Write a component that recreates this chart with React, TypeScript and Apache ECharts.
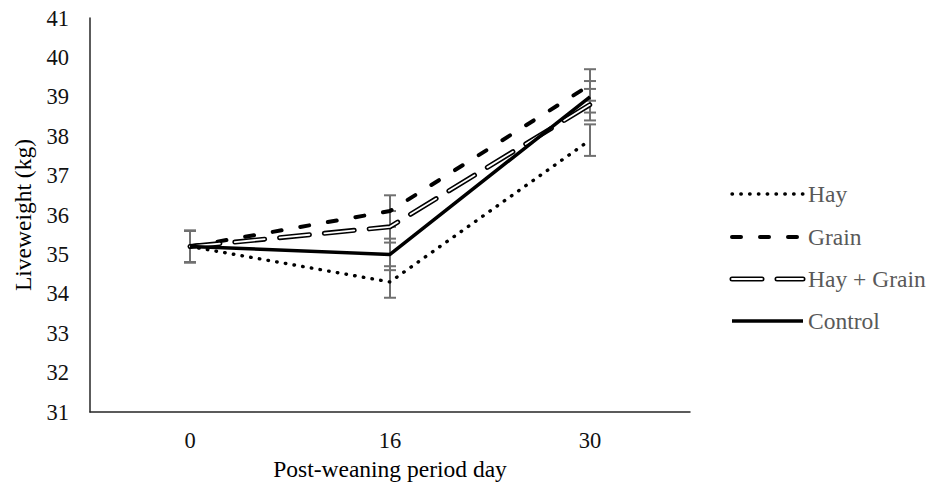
import React, { useEffect, useRef } from "react";
import * as echarts from "echarts";

// Post-weaning liveweight by feeding treatment
const days = ["0", "16", "30"];
const hay = [35.2, 34.3, 37.9];
const grain = [35.2, 36.1, 39.3];
const hayGrain = [35.2, 35.7, 38.8];
const control = [35.2, 35.0, 39.0];

// Error bar half-widths (kg) per series and day
const hayErr = [0.4, 0.4, 0.4];
const grainErr = [0.4, 0.4, 0.4];
const hayGrainErr = [0.4, 0.4, 0.4];
const controlErr = [0.4, 0.4, 0.4];

const yTicks = { min: 31, max: 41, interval: 1 };

const FONT = "'Liberation Serif', 'Times New Roman', serif";

const dotted = { type: [0.5, 8.3], cap: "round" as const, width: 3.4 };
const dashed = { type: [9, 19], cap: "round" as const, width: 4 };
const longDash = [30, 15];

function errorData(values: number[], errs: number[]) {
  return values.map((v, i) => [i, v - errs[i], v + errs[i]]);
}

export default function App() {
  const ref = useRef<HTMLDivElement>(null);

  useEffect(() => {
    if (!ref.current) return;
    const chart = echarts.init(ref.current, undefined, { renderer: "svg" });

    const renderErrorBar = (_params: any, api: any) => {
      const idx = api.value(0);
      const top = api.coord([idx, api.value(2)]);
      const bot = api.coord([idx, api.value(1)]);
      const half = 6;
      const style = { stroke: "#707070", lineWidth: 2, fill: "none" };
      return {
        type: "group",
        children: [
          { type: "line", shape: { x1: top[0], y1: top[1], x2: bot[0], y2: bot[1] }, style },
          { type: "line", shape: { x1: top[0] - half, y1: top[1], x2: top[0] + half, y2: top[1] }, style },
          { type: "line", shape: { x1: bot[0] - half, y1: bot[1], x2: bot[0] + half, y2: bot[1] }, style },
        ],
      };
    };

    const errSeries = (vals: number[], errs: number[]) => ({
      type: "custom",
      renderItem: renderErrorBar,
      data: errorData(vals, errs),
      z: 1,
      silent: true,
    });

    const lineBase = {
      type: "line",
      symbol: "none",
      silent: true,
      z: 3,
    };

    // legend drawn as graphic elements so the outlined dash can be shown
    const legendX1 = 732;
    const legendX2 = 803;
    const legendTextX = 808;
    const legendRows = [194, 237, 279, 321];
    const legendText = (label: string, y: number) => ({
      type: "text",
      x: legendTextX,
      y,
      style: {
        text: label,
        fill: "#595959",
        fontSize: 23.5,
        fontFamily: FONT,
        verticalAlign: "middle",
      },
    });
    const legendLine = (y: number, style: any) => ({
      type: "line",
      shape: { x1: legendX1, y1: y, x2: legendX2, y2: y },
      style,
    });

    chart.setOption({
      animation: false,
      backgroundColor: "#ffffff",
      grid: { left: 90, right: 239, top: 18, bottom: 81, containLabel: false },
      xAxis: {
        type: "category",
        data: days,
        boundaryGap: true,
        name: "Post-weaning period day",
        nameLocation: "middle",
        nameGap: 45,
        nameTextStyle: { fontFamily: FONT, fontSize: 23.5, color: "#000" },
        axisLine: { lineStyle: { color: "#262626", width: 1.5 } },
        axisTick: { show: false },
        axisLabel: { fontFamily: FONT, fontSize: 22.5, color: "#111", margin: 17 },
        splitLine: { show: false },
      },
      yAxis: {
        type: "value",
        min: yTicks.min,
        max: yTicks.max,
        interval: yTicks.interval,
        name: "Liveweight (kg)",
        nameLocation: "middle",
        nameGap: 55,
        nameTextStyle: { fontFamily: FONT, fontSize: 23.5, color: "#000" },
        axisLine: { show: true, lineStyle: { color: "#262626", width: 1.5 } },
        axisTick: { show: false },
        axisLabel: { fontFamily: FONT, fontSize: 22.5, color: "#111", margin: 21 },
        splitLine: { show: false },
      },
      series: [
        errSeries(hay, hayErr),
        errSeries(grain, grainErr),
        errSeries(hayGrain, hayGrainErr),
        errSeries(control, controlErr),
        {
          ...lineBase,
          name: "Hay",
          data: hay,
          lineStyle: { color: "#000", ...dotted },
        },
        {
          ...lineBase,
          name: "Grain",
          data: grain,
          lineStyle: { color: "#000", ...dashed },
        },
        {
          ...lineBase,
          name: "Hay + Grain",
          data: hayGrain,
          lineStyle: { color: "#000", width: 5, type: longDash, cap: "round" },
        },
        {
          ...lineBase,
          name: "Hay + Grain inner",
          data: hayGrain,
          z: 4,
          lineStyle: { color: "#ffffff", width: 1.8, type: longDash, cap: "round" },
        },
        {
          ...lineBase,
          name: "Control",
          data: control,
          z: 5,
          lineStyle: { color: "#000", width: 3.5, type: "solid" },
        },
      ],
      graphic: [
        legendLine(legendRows[0], {
          stroke: "#000",
          lineWidth: dotted.width,
          lineDash: dotted.type,
          lineCap: "round",
        }),
        legendText("Hay", legendRows[0]),
        legendLine(legendRows[1], {
          stroke: "#000",
          lineWidth: dashed.width,
          lineDash: dashed.type,
          lineCap: "round",
        }),
        legendText("Grain", legendRows[1]),
        legendLine(legendRows[2], {
          stroke: "#000",
          lineWidth: 5,
          lineDash: longDash,
          lineCap: "round",
        }),
        legendLine(legendRows[2], {
          stroke: "#fff",
          lineWidth: 1.8,
          lineDash: longDash,
          lineCap: "round",
        }),
        legendText("Hay + Grain", legendRows[2]),
        legendLine(legendRows[3], { stroke: "#000", lineWidth: 3.5 }),
        legendText("Control", legendRows[3]),
      ],
    });

    return () => chart.dispose();
  }, []);

  return (
    <div
      ref={ref}
      style={{ position: "fixed", left: 0, top: 0, width: 929, height: 493, background: "#fff" }}
    />
  );
}
